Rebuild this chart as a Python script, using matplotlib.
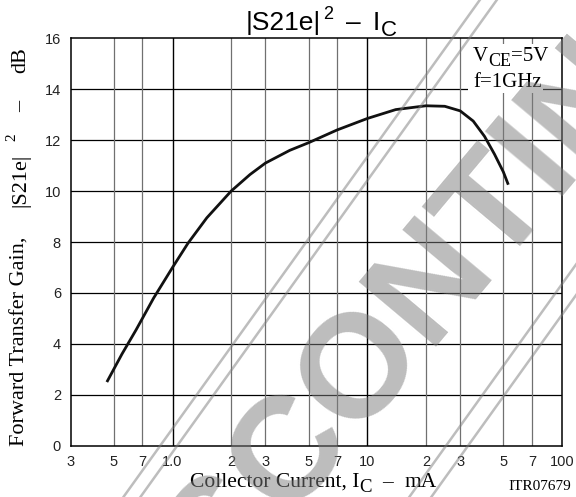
import matplotlib
matplotlib.use("Agg")
import matplotlib.pyplot as plt
import numpy as np
from matplotlib.lines import Line2D
from matplotlib.patches import Rectangle

# ---- data ----
ic_ma = [0.46, 0.55, 0.65, 0.8, 1.0, 1.2, 1.5, 2.0, 2.5, 3.0, 4.0, 5.0, 7.0, 10.0, 14.0, 20.0, 25.0, 30.0, 35.0, 40.0, 45.0, 50.0, 53.0]
gain_db = [2.5, 3.6, 4.55, 5.8, 7.0, 7.95, 8.95, 10.0, 10.65, 11.1, 11.6, 11.9, 12.4, 12.85, 13.2, 13.35, 13.33, 13.15, 12.75, 12.15, 11.45, 10.75, 10.25]
xticks = [0.3, 0.5, 0.7, 1, 2, 3, 5, 7, 10, 20, 30, 50, 70, 100]
xticklabels = ["3", "5", "7", "1.0", "2", "3", "5", "7", "10", "2", "3", "5", "7", "100"]
yticks = [0, 2, 4, 6, 8, 10, 12, 14, 16]

W, H = 576, 497
fig = plt.figure(figsize=(W / 100, H / 100), dpi=100)
renderer = fig.canvas.get_renderer()
ax = fig.add_axes([70.7 / W, 1 - 445.7 / H, (562 - 70.7) / W, (445.7 - 38.3) / H])
ax.set_xscale('log')
ax.set_xlim(0.3, 100)
ax.set_ylim(0, 16)

# grid
for y in yticks[1:-1]:
    ax.axhline(y, color='black', lw=0.9, zorder=1)
for x in xticks[1:-1]:
    major = x in (1, 10)
    ax.axvline(x, color='black' if major else '#707070', lw=1.0 if major else 0.9, zorder=1)

ax.plot(ic_ma, gain_db, color='#111111', lw=2.0, solid_capstyle='butt', zorder=3)

ax.set_xticks(xticks)
ax.set_xticklabels(xticklabels)
ax.xaxis.set_minor_locator(matplotlib.ticker.NullLocator())
ax.set_yticks(yticks)
ax.tick_params(length=0, labelsize=10.5, pad=7)
for lab in ax.get_xticklabels() + ax.get_yticklabels():
    lab.set_fontfamily('Liberation Sans')
    lab.set_color('#222222')
for s in ax.spines.values():
    s.set_linewidth(1.1)


def text_width(s, size, family):
    t = fig.text(0, 0, s, fontsize=size, fontfamily=family)
    w = t.get_window_extent(renderer).width
    t.remove()
    return w


def pieces(x0, y0, parts, family, align='left', vertical=False, zorder=5):
    """parts: (text, size, shift_px, gap_before_px); x0,y0 in px from top-left."""
    widths = [text_width(p[0], p[1], family) for p in parts]
    total = sum(widths) + sum(p[3] for p in parts)
    pos = 0.0
    if align == 'center':
        pos = -total / 2
    for (s, size, shift, gap), w in zip(parts, widths):
        pos += gap
        if vertical:
            px, py = x0 - shift, y0 - pos
            fig.text(px / W, 1 - py / H, s, fontsize=size, fontfamily=family, rotation=90,
                     rotation_mode='anchor', ha='left', va='baseline', zorder=zorder)
        else:
            px, py = x0 + pos, y0 - shift
            fig.text(px / W, 1 - py / H, s, fontsize=size, fontfamily=family,
                     ha='left', va='baseline', zorder=zorder)
        pos += w


# title
pieces(321, 30, [("|S21e|", 19, 0, 0), ("2", 13, 11, 3), ("–", 19, 0, 12),
                 ("I", 19, 0, 12), ("C", 16, -6, 1)], 'Liberation Sans', align='center')
# y label
pieces(25, 446, [("Forward Transfer Gain,", 16, 0, 0), ("|S21e|", 16, 0, 30),
                 ("2", 11, 10, 12), ("–", 16, 0, 22), ("dB", 16, 0, 28)],
       'Liberation Serif', vertical=True)
# x label
pieces(190, 487, [("Collector Current, I", 15.5, 0, 0), ("C", 13.5, -5, 0),
                  ("–", 15.5, 0, 10), ("mA", 15.5, 0, 12)], 'Liberation Serif')
fig.text(540 / W, 1 - 486 / H, "ITR07679", ha='center', va='center', fontsize=11,
         fontfamily='Liberation Serif')

# condition box
for (x1, y1, x2, y2) in [(468, 44, 558, 69), (468, 69, 543, 93)]:
    fig.add_artist(Rectangle((x1 / W, 1 - y2 / H), (x2 - x1) / W, (y2 - y1) / H,
                             transform=fig.transFigure, facecolor='white', edgecolor='none', zorder=4))
pieces(473, 61, [("V", 15, 0, 0), ("CE", 13, -5, 0), ("=5V", 15, 0, 0)], 'Liberation Serif')
pieces(473, 87, [("f=1GHz", 15, 0, 0)], 'Liberation Serif')

# watermark
wm_col = '#7c7c7c'
fig.text(458 / W, 1 - 250 / H, "DISCONTINUED", rotation=50, rotation_mode='anchor',
         ha='center', va='center', fontsize=106, fontfamily='Liberation Sans', fontweight='bold',
         color=wm_col, alpha=0.5, zorder=10)
slope = 0.717  # dx per dy (image px)
for (bx, by) in [(160, 446), (177, 446), (443, 450), (465, 450)]:
    xs = [bx - slope * (H + 50 - by), bx + slope * (by + 50)]
    ys = [H + 50, -50]
    fig.add_artist(Line2D([x / W for x in xs], [1 - y / H for y in ys], transform=fig.transFigure,
                          color=wm_col, alpha=0.5, lw=1.8, zorder=10))

fig.savefig("out.png", dpi=100)
